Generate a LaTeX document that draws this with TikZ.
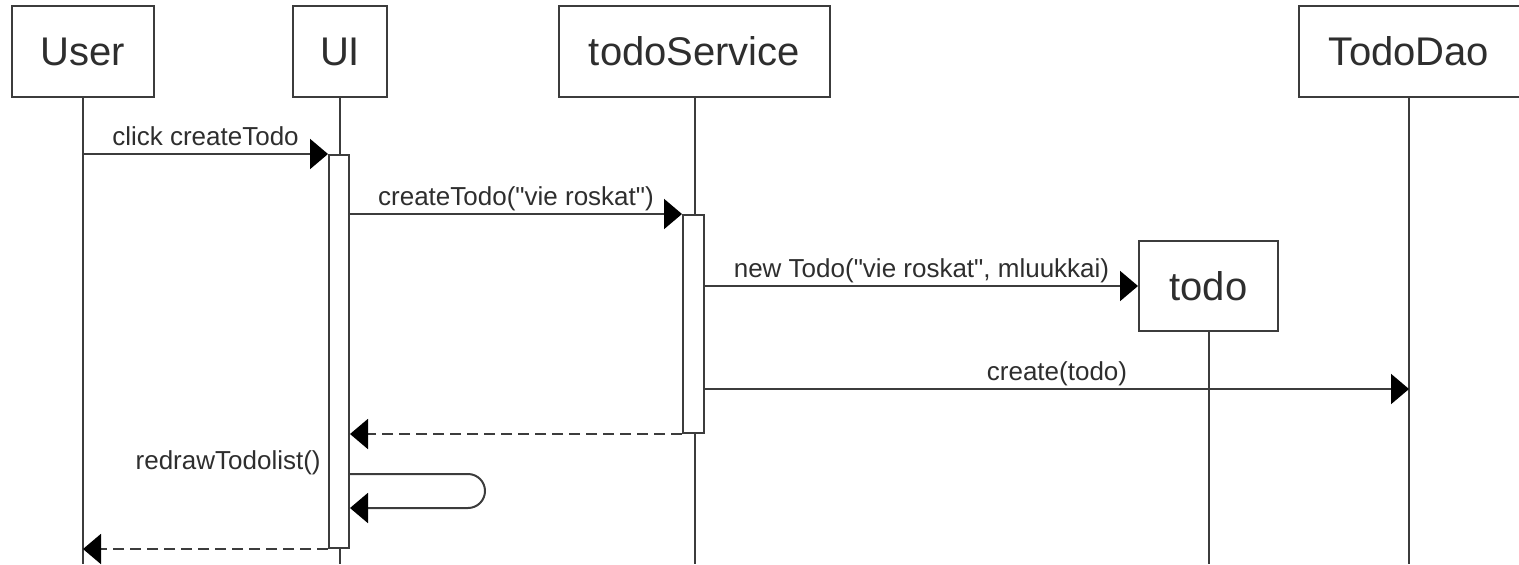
\documentclass[tikz,border=0pt]{standalone}
\usepackage{fontspec}
\setmainfont{Liberation Sans}
\usetikzlibrary{arrows.meta,positioning,calc}
\definecolor{ink}{HTML}{3C3C3C}
\definecolor{txt}{HTML}{2E2E2E}
\tikzset{
  actor/.style={
    draw=ink,fill=white,line width=1pt,
    minimum height=45.5pt,inner sep=0pt,
    font=\fontsize{20}{24}\selectfont,text=txt
  },
  activation/.style={
    draw=ink,fill=white,line width=1pt,
    minimum width=10pt,inner sep=0pt
  },
  lifeline/.style={draw=ink,line width=1pt},
  msg/.style={-{Triangle[length=9pt,width=15pt,color=black]},draw=ink,line width=1pt},
  reply/.style={msg,dash pattern=on 5.5pt off 3pt},
  msglabel/.style={
    anchor=base,inner sep=0pt,yshift=4.5pt,
    font=\fontsize{13}{15}\selectfont,text=txt
  }
}
\newcommand{\qt}{\textquotedbl}

\begin{document}
\begin{tikzpicture}[x=0.5pt,y=-0.5pt]
\useasboundingbox (0,0) rectangle (1519,564);

% participants
\node[actor,minimum width=71pt] (user) at (83,51.5) {User};
\node[actor,minimum width=47pt] (ui) at (340,51.5) {UI};
\node[actor,minimum width=135.5pt] (service) at (694.5,51.5) {todoService};
\node[actor,minimum width=110.5pt] (dao) at (1409,51.5) {TodoDao};
\node[actor,minimum width=69.5pt,minimum height=45pt] (todo) at (1208.5,286) {todo};

% message rows
\coordinate (create) at (0,389);
\coordinate (selfout) at (0,474);
\coordinate (selfback) at (0,508);
\coordinate (loop) at (485,0);
\coordinate (bottom) at (0,564);

% lifelines
\draw[lifeline] (user.south) -- (user.south |- bottom);
\draw[lifeline] (ui.south) -- (ui.south |- bottom);
\draw[lifeline] (service.south) -- (service.south |- bottom);
\draw[lifeline] (dao.south) -- (dao.south |- bottom);
\draw[lifeline] (todo.south) -- (todo.south |- bottom);

% activation bars
\node[activation,minimum height=196.5pt] (uiact) at (339,351.5) {};
\node[activation,minimum width=10.5pt,minimum height=109pt] (svact) at (693.5,324) {};

% messages
\draw[msg] (user.south |- uiact.north) -- node[msglabel] {click createTodo} (uiact.north west);
\draw[msg] (uiact.east |- svact.north) -- node[msglabel] {createTodo(\qt vie roskat\qt)} (svact.north west);
\draw[msg] (svact.east |- todo.west) -- node[msglabel] {new Todo(\qt vie roskat\qt, mluukkai)} (todo.west);
\draw[msg] (svact.east |- create) -- node[msglabel] {create(todo)} (dao.south |- create);
\draw[reply] (svact.south west) -- (uiact.east |- svact.south);
\draw[msg,rounded corners=8.5pt] (uiact.east |- selfout) -- (loop |- selfout)
  -- (loop |- selfback) -- (uiact.east |- selfback);
\node[msglabel,anchor=base east,yshift=0pt] (redraw) at ($(uiact.west |- selfout)+(-7,4)$) {redrawTodolist()};
\draw[reply] (uiact.south west) -- (user.south |- uiact.south);
\end{tikzpicture}
\end{document}
